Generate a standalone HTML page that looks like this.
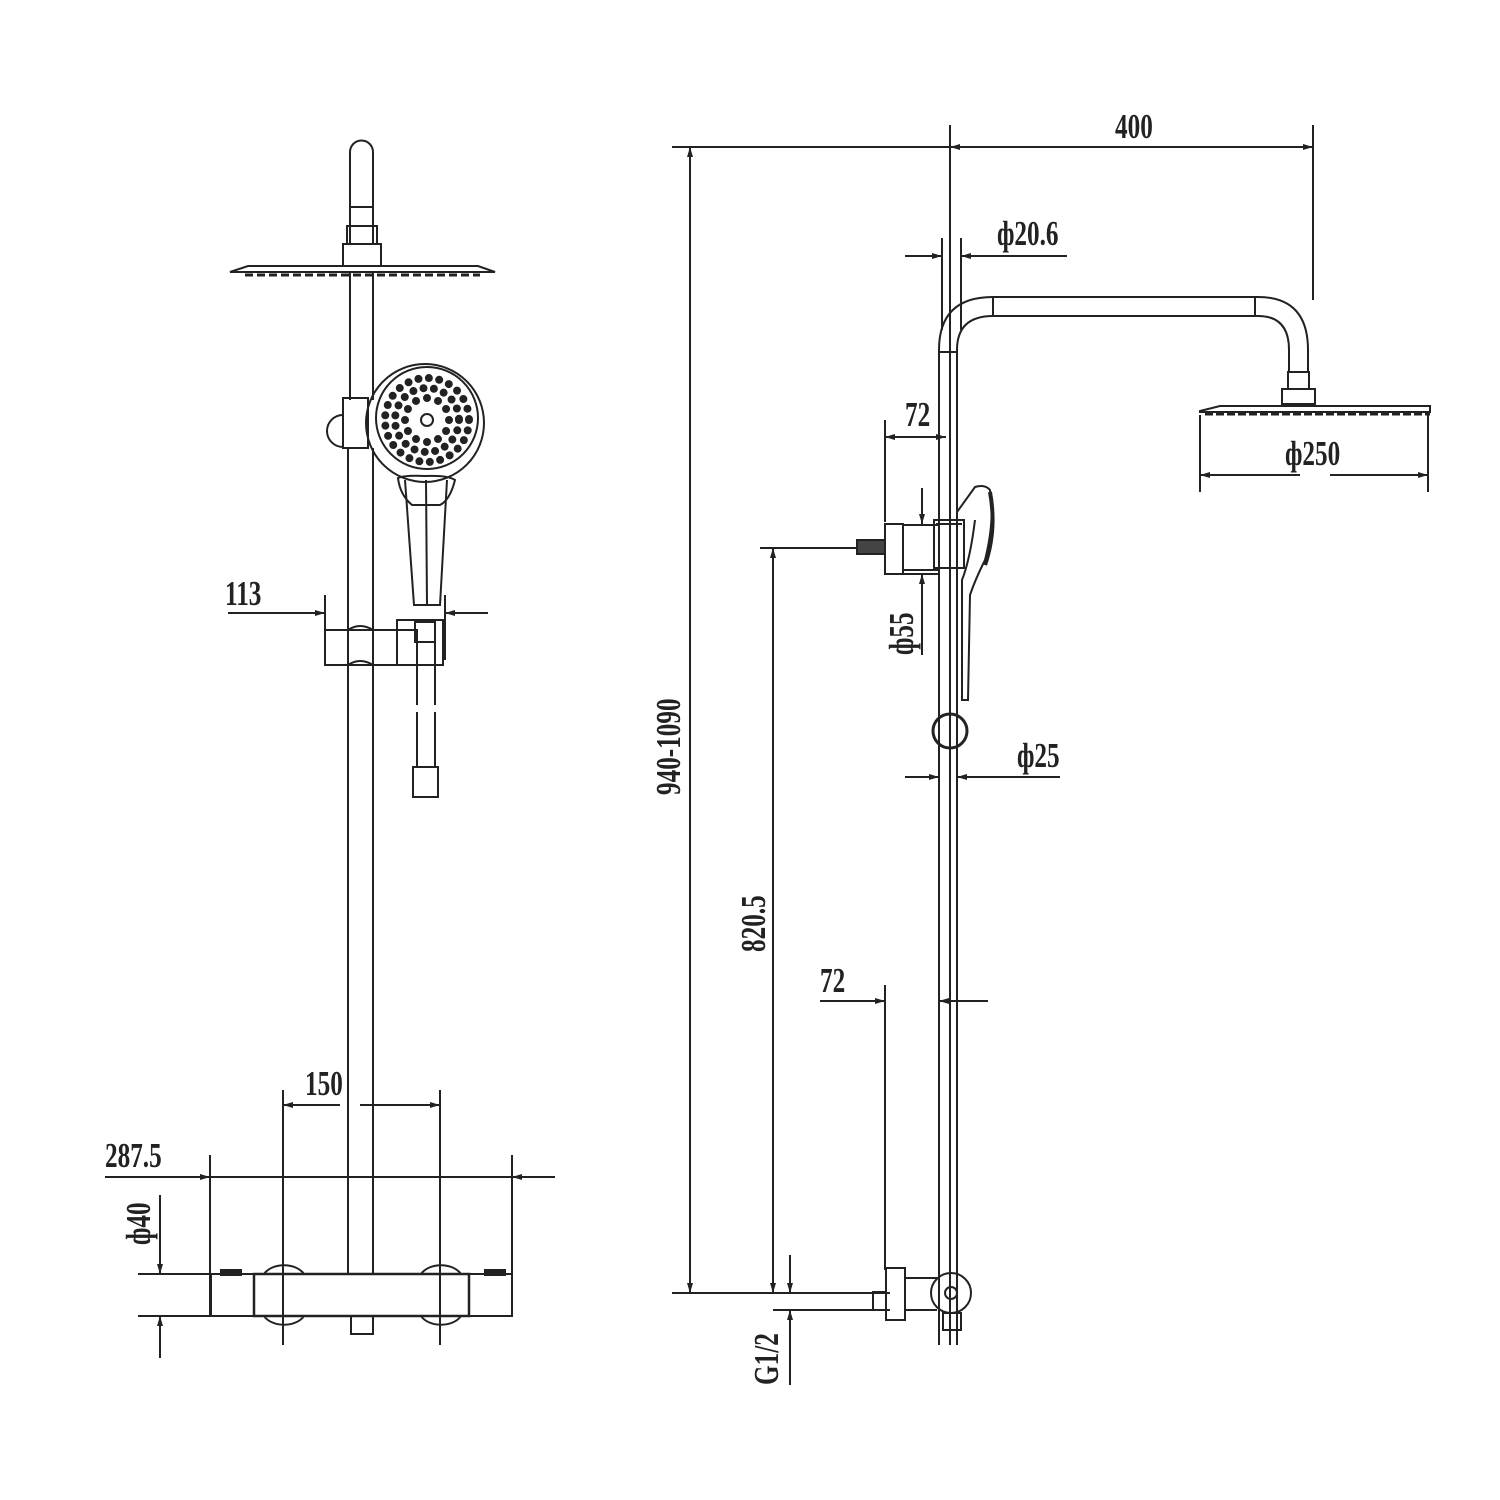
<!DOCTYPE html>
<html><head><meta charset="utf-8"><style>html,body{margin:0;padding:0;background:#fff}svg{display:block}
text{font-family:"Liberation Serif",serif;font-size:28px;font-weight:bold;fill:#222}</style></head><body>
<svg width="1500" height="1500" viewBox="0 0 1500 1500" xmlns="http://www.w3.org/2000/svg">
<defs>
<marker id="a" viewBox="0 0 10 6" refX="10" refY="3" markerWidth="18" markerHeight="6" markerUnits="userSpaceOnUse" orient="auto"><path d="M0,0L10,3L0,6z" fill="#222"/></marker>
</defs>
<g stroke="#222" stroke-width="2" fill="none">
<!-- LEFT VIEW -->
<path d="M350,245 V152 a11.5,11.5 0 0 1 23,0 V245"/>
<line x1="350" y1="207" x2="373" y2="207"/>
<rect x="347" y="226" width="30" height="18"/>
<rect x="343" y="244" width="38" height="22"/>
<path d="M230,272 L248,266 H478 L495,272 Z" stroke-width="2"/>
<line x1="245" y1="275" x2="480" y2="275" stroke-width="3" stroke-dasharray="8,4"/>
<line x1="350" y1="272" x2="350" y2="400"/>
<line x1="373" y1="272" x2="373" y2="400"/>
<rect x="343" y="398" width="25" height="50"/>
<path d="M343,415 a14,14 0 0 0 0,32"/>
<!-- hand shower head -->
<circle cx="425" cy="423" r="59"/>
<circle cx="427" cy="418" r="51"/>
<g stroke-linecap="round" stroke-width="8">
<circle cx="427" cy="420" r="42" stroke-dasharray="0 10.5"/>
<circle cx="427" cy="420" r="32" stroke-dasharray="0 10.5"/>
<circle cx="427" cy="420" r="22" stroke-dasharray="0 11.5"/>
</g>
<circle cx="427" cy="420" r="6"/>
<path d="M398,478 Q405,475 425,476 Q448,475 455,480 Q450,500 440,505 H412 Q400,495 398,478 Z"/>
<path d="M405,480 L414,605 H440 L447,480"/>
<line x1="426" y1="480" x2="427" y2="605"/>
<!-- main pole -->
<line x1="348" y1="448" x2="348" y2="1275"/>
<line x1="373" y1="448" x2="373" y2="1275"/>
<!-- slider -->
<rect x="325" y="630" width="92" height="35"/>
<path d="M348,630 q12,-8 25,0 M348,665 q12,-8 25,0"/>
<rect x="397" y="620" width="46" height="45"/>
<rect x="415" y="622" width="20" height="20"/>
<line x1="417" y1="642" x2="417" y2="705"/><line x1="435" y1="642" x2="435" y2="705"/>
<line x1="417" y1="712" x2="417" y2="768"/><line x1="435" y1="712" x2="435" y2="768"/>
<rect x="413" y="767" width="25" height="30"/>
<!-- 113 dim -->
<line x1="325" y1="595" x2="325" y2="660"/>
<line x1="445" y1="595" x2="445" y2="660"/>
<line x1="228" y1="613" x2="325" y2="613" marker-end="url(#a)"/>
<line x1="488" y1="613" x2="445" y2="613" marker-end="url(#a)"/>
<!-- valve body -->
<rect x="211" y="1274" width="43" height="42"/>
<rect x="254" y="1274" width="215" height="42" stroke-width="2.5"/>
<rect x="469" y="1274" width="43" height="42"/>
<rect x="221" y="1270" width="20" height="5" fill="#222"/>
<rect x="485" y="1270" width="20" height="5" fill="#222"/>
<path d="M264,1274 a22,15 0 0 1 40,0 M264,1316 a22,15 0 0 0 40,0"/>
<path d="M421,1274 a22,15 0 0 1 40,0 M421,1316 a22,15 0 0 0 40,0"/>
<rect x="351" y="1316" width="22" height="18"/>
<line x1="283" y1="1090" x2="283" y2="1345"/>
<line x1="440" y1="1090" x2="440" y2="1345"/>
<line x1="340" y1="1105" x2="283" y2="1105" marker-end="url(#a)"/>
<line x1="360" y1="1105" x2="440" y2="1105" marker-end="url(#a)"/>
<line x1="210" y1="1155" x2="210" y2="1316"/>
<line x1="512" y1="1155" x2="512" y2="1316"/>
<line x1="105" y1="1177" x2="210" y2="1177" marker-end="url(#a)"/>
<line x1="555" y1="1177" x2="512" y2="1177" marker-end="url(#a)"/>
<line x1="210" y1="1177" x2="512" y2="1177"/>
<line x1="138" y1="1274" x2="211" y2="1274"/>
<line x1="138" y1="1316" x2="211" y2="1316"/>
<line x1="160" y1="1195" x2="160" y2="1274" marker-end="url(#a)"/>
<line x1="160" y1="1358" x2="160" y2="1316" marker-end="url(#a)"/>

<!-- RIGHT VIEW -->
<line x1="950" y1="125" x2="950" y2="1345"/>
<line x1="1313" y1="125" x2="1313" y2="300"/>
<line x1="1313" y1="147" x2="950" y2="147" marker-end="url(#a)"/>
<line x1="950" y1="147" x2="1313" y2="147" marker-end="url(#a)"/>
<line x1="672" y1="147" x2="950" y2="147"/>
<line x1="690" y1="1293" x2="690" y2="147" marker-end="url(#a)"/>
<line x1="690" y1="147" x2="690" y2="1293" marker-end="url(#a)"/>
<line x1="672" y1="1293" x2="890" y2="1293"/>
<line x1="942" y1="238" x2="942" y2="330"/>
<line x1="961" y1="238" x2="961" y2="330"/>
<line x1="905" y1="256" x2="942" y2="256" marker-end="url(#a)"/>
<line x1="1067" y1="256" x2="961" y2="256" marker-end="url(#a)"/>
<path d="M939,1345 V350 Q939,297 993,297 H1258 Q1308,297 1308,350 V372"/>
<path d="M957,1345 V350 Q957,316 993,316 H1258 Q1289,316 1289,350 V372"/>
<line x1="993" y1="297" x2="993" y2="316"/><line x1="1255" y1="297" x2="1255" y2="316"/>
<line x1="939" y1="352" x2="957" y2="352"/>
<rect x="1288" y="372" width="21" height="17"/>
<rect x="1282" y="389" width="33" height="15"/>
<path d="M1200,411 L1220,406 H1430 V412 H1200 Z"/>
<line x1="1205" y1="414" x2="1430" y2="414" stroke-width="3" stroke-dasharray="8,3"/>
<line x1="1200" y1="415" x2="1200" y2="492"/>
<line x1="1428" y1="415" x2="1428" y2="492"/>
<line x1="1300" y1="475" x2="1200" y2="475" marker-end="url(#a)"/>
<line x1="1330" y1="475" x2="1428" y2="475" marker-end="url(#a)"/>
<line x1="885" y1="420" x2="885" y2="522"/>
<line x1="900" y1="437" x2="885" y2="437" marker-end="url(#a)"/>
<line x1="930" y1="437" x2="946" y2="437" marker-end="url(#a)"/>
<line x1="885" y1="437" x2="946" y2="437"/>
<rect x="885" y="524" width="18" height="50"/>
<rect x="903" y="525" width="36" height="45"/>
<rect x="934" y="520" width="30" height="48"/>
<line x1="936" y1="524" x2="962" y2="524"/>
<rect x="857" y="540" width="28" height="14" fill="#444"/>
<line x1="760" y1="548" x2="857" y2="548"/>
<path d="M957,512 L975,487 Q985,484 990,490 Q995,520 985,560 Q975,580 970,595 L968,700 H962 V580 Q970,560 975,520"/>
<path d="M990,492 Q997,530 985,565" stroke-width="4"/>
<line x1="922" y1="488" x2="922" y2="524" marker-end="url(#a)"/>
<line x1="922" y1="655" x2="922" y2="574" marker-end="url(#a)"/>
<line x1="903" y1="574" x2="940" y2="574"/>
<circle cx="950" cy="731" r="17" stroke-width="3"/>
<line x1="905" y1="777" x2="939" y2="777" marker-end="url(#a)"/>
<line x1="1060" y1="777" x2="957" y2="777" marker-end="url(#a)"/>
<line x1="773" y1="1293" x2="773" y2="548" marker-end="url(#a)"/>
<line x1="773" y1="548" x2="773" y2="1293" marker-end="url(#a)"/>
<line x1="885" y1="985" x2="885" y2="1270"/>
<line x1="820" y1="1001" x2="885" y2="1001" marker-end="url(#a)"/>
<line x1="988" y1="1001" x2="939" y2="1001" marker-end="url(#a)"/>
<rect x="886" y="1268" width="19" height="52"/>
<rect x="873" y="1292" width="13" height="18"/>
<line x1="773" y1="1310" x2="890" y2="1310"/>
<line x1="905" y1="1278" x2="937" y2="1278"/>
<line x1="905" y1="1310" x2="937" y2="1310"/>
<circle cx="951" cy="1293" r="20"/>
<circle cx="951" cy="1293" r="6"/>
<rect x="943" y="1313" width="18" height="17"/>
<line x1="790" y1="1255" x2="790" y2="1293" marker-end="url(#a)"/>
<line x1="790" y1="1385" x2="790" y2="1310" marker-end="url(#a)"/>
</g>
<g>
<text transform="translate(225,605) scale(0.9,1.25)">113</text>
<text transform="translate(305,1095) scale(0.9,1.25)">150</text>
<text transform="translate(105,1167) scale(0.9,1.25)">287.5</text>
<text transform="translate(150,1245) rotate(-90) scale(0.9,1.25)">ф40</text>
<text transform="translate(1115,138) scale(0.9,1.25)">400</text>
<text transform="translate(997,245) scale(0.9,1.25)">ф20.6</text>
<text transform="translate(905,426) scale(0.9,1.25)">72</text>
<text transform="translate(1285,465) scale(0.9,1.25)">ф250</text>
<text transform="translate(913,655) rotate(-90) scale(0.9,1.25)">ф55</text>
<text transform="translate(1017,767) scale(0.9,1.25)">ф25</text>
<text transform="translate(680,795) rotate(-90) scale(0.9,1.25)">940-1090</text>
<text transform="translate(765,952) rotate(-90) scale(0.9,1.25)">820.5</text>
<text transform="translate(820,992) scale(0.9,1.25)">72</text>
<text transform="translate(778,1385) rotate(-90) scale(0.9,1.25)">G1/2</text>
</g>
</svg>
</body></html>
